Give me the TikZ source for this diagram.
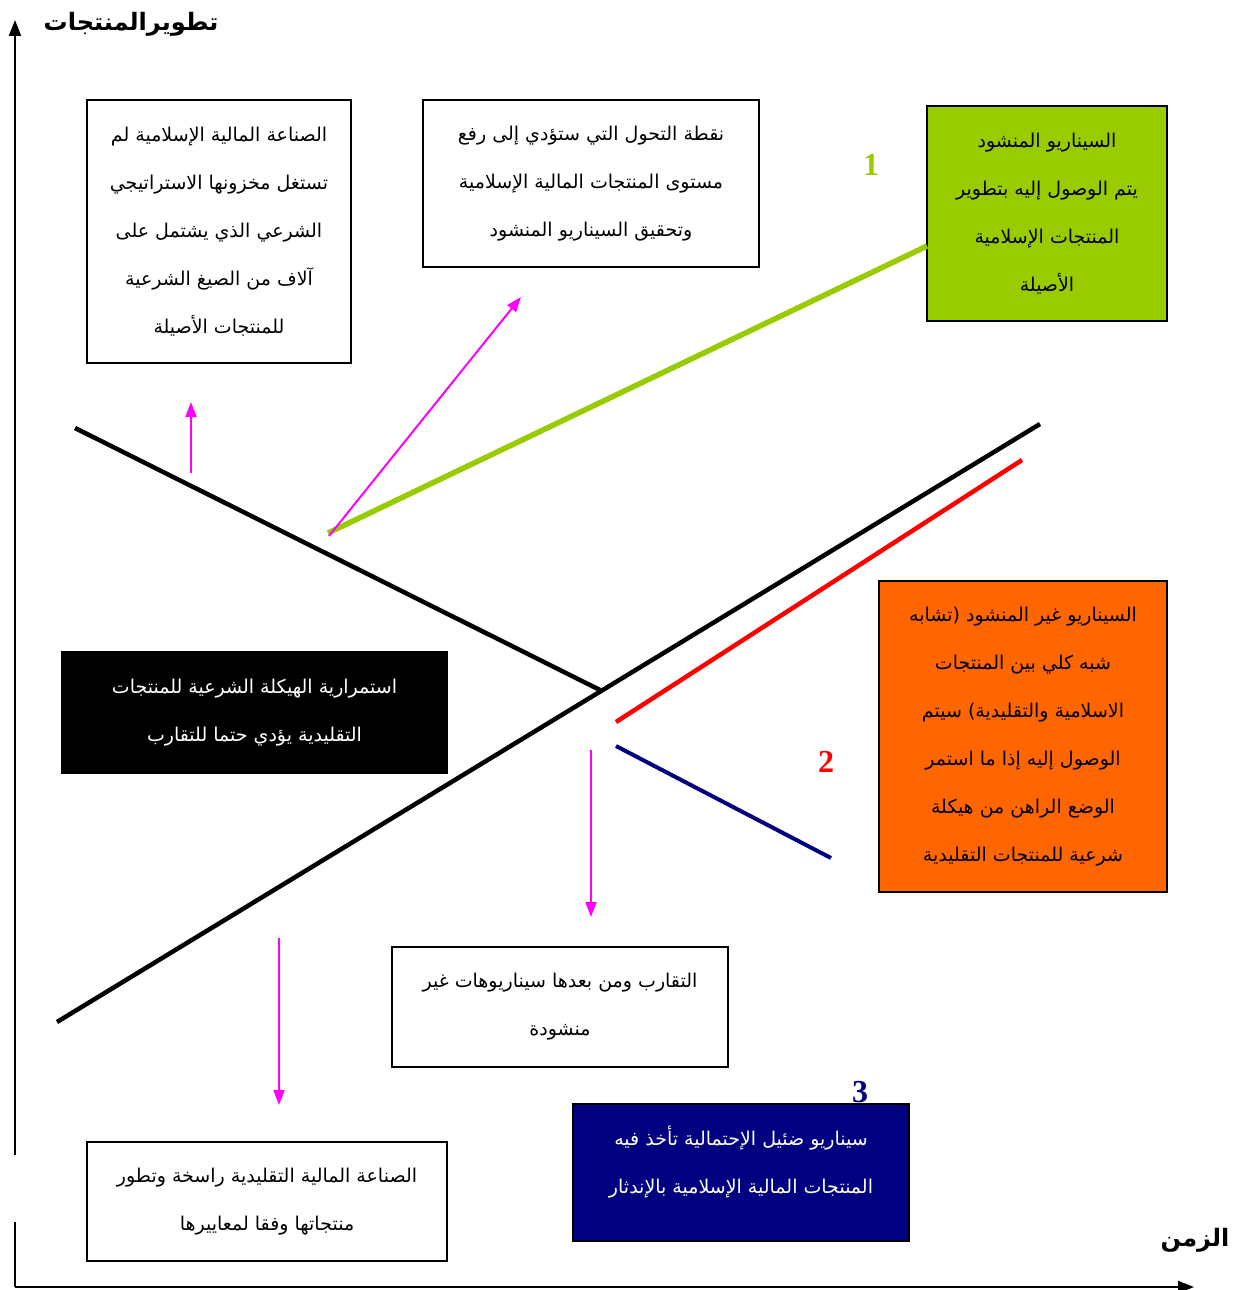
\documentclass[tikz,border=0pt]{standalone}
\usepackage{fontspec}
\setmainfont{Liberation Serif}
\newfontfamily\arabicfont[Script=Arabic]{DejaVu Sans}
\TeXXeTstate=1
\usetikzlibrary{arrows.meta}
\newcommand{\ar}[1]{\beginR #1\endR}
\definecolor{lgreen}{HTML}{99CC00}
\definecolor{orng}{HTML}{FF6600}
\definecolor{navyb}{HTML}{000080}
\definecolor{magn}{HTML}{FF00FF}
\begin{document}
\begin{tikzpicture}[x=1pt,y=-1pt,
  boxstyle/.style={draw=black, line width=1.5pt, align=center, inner sep=0pt,
    font=\arabicfont\fontsize{19}{48}\selectfont},
  axisline/.style={line width=2pt, black},
  axisarrow/.style={line width=2pt, black, -{Triangle[length=16pt,width=12pt]}},
  marrow/.style={line width=2pt, magn, -{Triangle[length=15pt,width=11pt]}},
  mainline/.style={line width=4.5pt, black},
  numlabel/.style={font=\bfseries\fontsize{32}{32}\selectfont, inner sep=0pt},
  axlabel/.style={font=\arabicfont\bfseries\fontsize{24}{24}\selectfont, inner sep=0pt}
]
\useasboundingbox (0,0) rectangle (1234,1290);

% axes
\coordinate (ybot) at (15,1155);
\coordinate (ytop) at (15,20);
\coordinate (ybot2) at (15,1222);
\coordinate (orig) at (15,1287);
\coordinate (xend) at (1194,1287);
\draw[axisarrow] (ybot) -- (ytop);
\draw[axisline] (ybot2) -- (orig);
\draw[axisarrow] (orig) -- (xend);
\node[axlabel] (ytitle) at (131,24) {\ar{تطويرالمنتجات}};
\node[axlabel] (xtitle) at (1195,1240) {\ar{الزمن}};

% boxes
\node[boxstyle, fill=white, minimum width=264, minimum height=263] (b1) at (219,231.5)
 {\ar{الصناعة المالية الإسلامية لم}\\\ar{تستغل مخزونها الاستراتيجي}\\\ar{الشرعي الذي يشتمل على}\\\ar{آلاف من الصيغ الشرعية}\\\ar{للمنتجات الأصيلة}};
\node[boxstyle, fill=white, minimum width=336, minimum height=167] (b2) at (591,183.5)
 {\ar{نقطة التحول التي ستؤدي إلى رفع}\\\ar{مستوى المنتجات المالية الإسلامية}\\\ar{وتحقيق السيناريو المنشود}};
\node[boxstyle, fill=lgreen, minimum width=240, minimum height=215] (b3) at (1047,213.5)
 {\ar{السيناريو المنشود}\\\ar{يتم الوصول إليه بتطوير}\\\ar{المنتجات الإسلامية}\\\ar{الأصيلة}};
\node[boxstyle, fill=orng, minimum width=288, minimum height=311] (b4) at (1023,736.5)
 {\ar{السيناريو غير المنشود (تشابه}\\\ar{شبه كلي بين المنتجات}\\\ar{الاسلامية والتقليدية) سيتم}\\\ar{الوصول إليه إذا ما استمر}\\\ar{الوضع الراهن من هيكلة}\\\ar{شرعية للمنتجات التقليدية}};
\node[boxstyle, fill=black, text=white, minimum width=385, minimum height=121] (b5) at (254.5,712.5)
 {\ar{استمرارية الهيكلة الشرعية للمنتجات}\\\ar{التقليدية يؤدي حتما للتقارب}};
\node[boxstyle, fill=white, minimum width=336, minimum height=120] (b6) at (560,1007)
 {\ar{التقارب ومن بعدها سيناريوهات غير}\\\ar{منشودة}};
\node[boxstyle, fill=navyb, minimum width=336, minimum height=137] (b7) at (741,1172.5) {};
\node[boxstyle, draw=none, text=white] (b7t) at (741,1162.5)
 {\ar{سيناريو ضئيل الإحتمالية تأخذ فيه}\\\ar{المنتجات المالية الإسلامية بالإندثار}};
\node[boxstyle, fill=white, minimum width=360, minimum height=119] (b8) at (267,1201.5)
 {\ar{الصناعة المالية التقليدية راسخة وتطور}\\\ar{منتجاتها وفقا لمعاييرها}};

% main lines
\coordinate (l1a) at (75,428);
\coordinate (l1b) at (600,690);
\coordinate (l2a) at (57,1022);
\coordinate (l2b) at (1040,424);
\draw[mainline] (l1a) -- (l1b);
\draw[mainline] (l2a) -- (l2b);

\coordinate (gs) at (328,533);
\coordinate (ge) at (927,246);
\draw[line width=5.5pt, lgreen] (gs) -- (ge);

\coordinate (rs) at (616,722);
\coordinate (re) at (1022,460);
\draw[line width=4.5pt, red] (rs) -- (re);

\coordinate (ns) at (616,746);
\coordinate (ne) at (831,858);
\draw[line width=4pt, navyb] (ns) -- (ne);

% magenta arrows
\coordinate (m1s) at (329,536);
\coordinate (m1e) at (521,297);
\draw[marrow] (m1s) -- (m1e);
\coordinate (m2s) at (191,473);
\coordinate (m2e) at (191,402);
\draw[marrow] (m2s) -- (m2e);
\coordinate (m3s) at (591,750);
\coordinate (m3e) at (591,917);
\draw[marrow] (m3s) -- (m3e);
\coordinate (m4s) at (279,938);
\coordinate (m4e) at (279,1105);
\draw[marrow] (m4s) -- (m4e);

% numbers
\node[numlabel, text=lgreen] (n1) at (871,165) {1};
\node[numlabel, text=red] (n2) at (826,762) {2};
\node[numlabel, text=navyb] (n3) at (860,1092) {3};
\end{tikzpicture}
\end{document}
